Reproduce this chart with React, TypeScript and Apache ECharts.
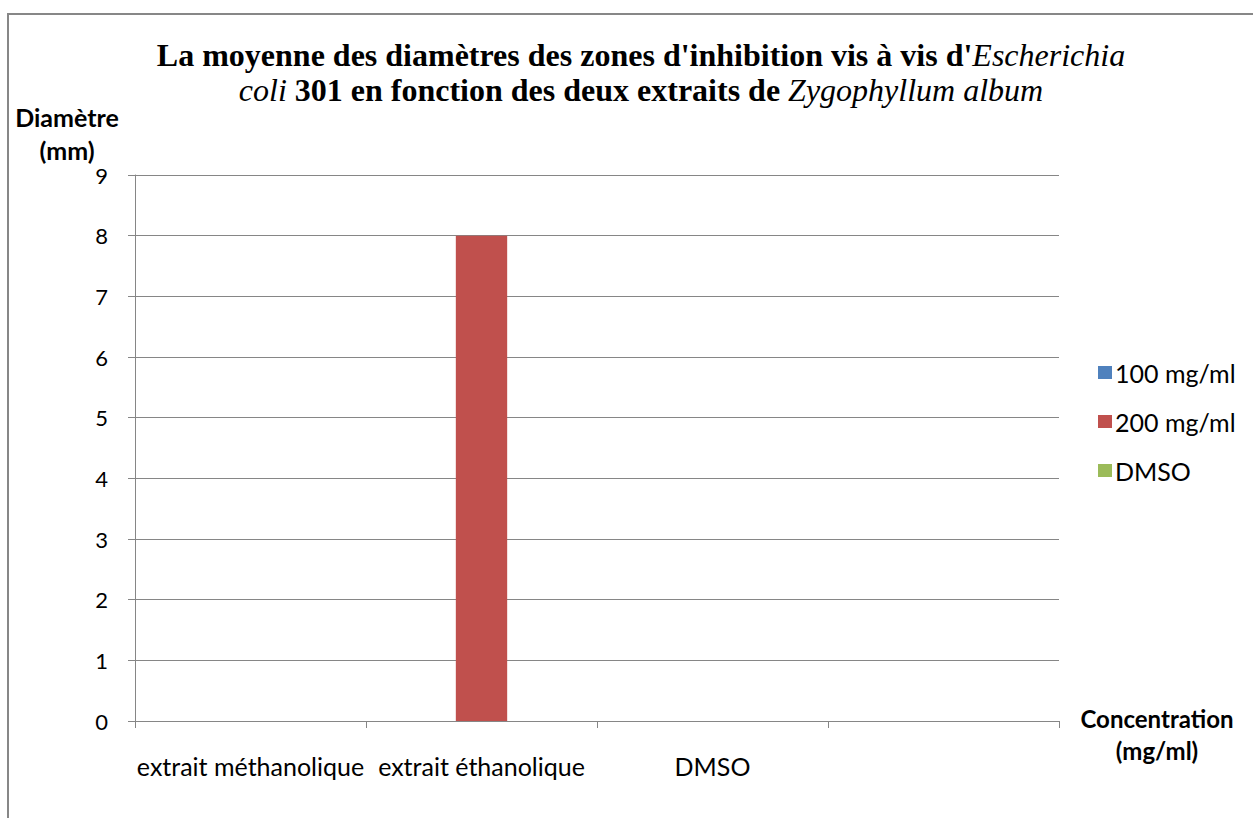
import React, { useEffect, useRef } from "react";
import * as echarts from "echarts";

const categories = ["extrait méthanolique", "extrait éthanolique", "DMSO", ""];
const seriesNames = ["100 mg/ml", "200 mg/ml", "DMSO"];
const values100 = [0, 0, 0, 0];
const values200 = [0, 8, 0, 0];
const valuesDMSO = [0, 0, 0, 0];
const colors = ["#4F81BD", "#C0504D", "#9BBB59"];

const SANS = "Lato, 'Open Sans', sans-serif";
const SERIF = "'Liberation Serif', 'Times New Roman', serif";

export default function App() {
  const ref = useRef<HTMLDivElement>(null);
  useEffect(() => {
    if (!ref.current) return;
    const chart = echarts.init(ref.current, undefined, { renderer: "svg" });
    chart.setOption({
      animation: false,
      backgroundColor: "#ffffff",
      title: {
        text:
          "La moyenne des diamètres des zones d'inhibition vis à vis d'{i|Escherichia}\n{i|coli} 301 en fonction des deux extraits de {i|Zygophyllum album}",
        left: 636,
        top: 32,
        textAlign: "center",
        textStyle: {
          fontFamily: SERIF,
          fontSize: 32,
          fontWeight: "bold",
          color: "#000",
          lineHeight: 35,
          rich: {
            i: {
              fontFamily: SERIF,
              fontSize: 32,
              fontStyle: "italic",
              fontWeight: "normal",
              color: "#000",
              lineHeight: 35,
            },
          },
        },
      },
      legend: {
        orient: "vertical",
        left: 1093,
        top: 355,
        itemWidth: 14,
        itemHeight: 13,
        itemGap: 24,
        icon: "rect",
        data: seriesNames,
        textStyle: { fontFamily: SANS, fontSize: 25, color: "#000", padding: [0, 0, 0, -2] },
      },
      grid: { left: 135, right: 194, top: 175, bottom: 97, containLabel: false },
      xAxis: {
        type: "category",
        data: categories,
        boundaryGap: true,
        axisLine: { lineStyle: { color: "#868686", width: 1 } },
        axisTick: { show: true, length: 7, lineStyle: { color: "#868686" } },
        axisLabel: { interval: 0, margin: 32, fontFamily: SANS, fontSize: 25, color: "#000" },
      },
      yAxis: {
        type: "value",
        min: 0,
        max: 9,
        interval: 1,
        axisLine: { show: true, lineStyle: { color: "#868686", width: 1 } },
        axisTick: { show: true, length: 7, inside: false, lineStyle: { color: "#868686" } },
        axisLabel: { margin: 27, fontFamily: SANS, fontSize: 22, color: "#000" },
        splitLine: { show: true, lineStyle: { color: "#868686", width: 1 } },
      },
      series: [
        { name: seriesNames[0], type: "bar", data: values100, itemStyle: { color: colors[0] }, barGap: "0%", barCategoryGap: "33.3%" },
        { name: seriesNames[1], type: "bar", data: values200, itemStyle: { color: colors[1] }, barGap: "0%", barCategoryGap: "33.3%" },
        { name: seriesNames[2], type: "bar", data: valuesDMSO, itemStyle: { color: colors[2] }, barGap: "0%", barCategoryGap: "33.3%" },
      ],
      graphic: [
        {
          type: "rect",
          shape: { x: 8, y: 14, width: 1300, height: 900 },
          style: { fill: "none", stroke: "#878787", lineWidth: 2 },
          silent: true,
        },
        {
          type: "text",
          x: 67,
          y: 133,
          style: {
            text: "Diamètre\n(mm)",
            font: `bold 25px ${SANS}`,
            fill: "#000",
            textAlign: "center",
            textVerticalAlign: "middle",
            lineHeight: 33,
          },
        },
        {
          type: "text",
          x: 1157,
          y: 734,
          style: {
            text: "Concentration\n(mg/ml)",
            font: `bold 24px ${SANS}`,
            fill: "#000",
            textAlign: "center",
            textVerticalAlign: "middle",
            lineHeight: 32,
          },
        },
      ],
    });
    return () => chart.dispose();
  }, []);
  return (
    <div
      ref={ref}
      style={{ position: "absolute", left: 0, top: 0, width: 1253, height: 818 }}
    />
  );
}
